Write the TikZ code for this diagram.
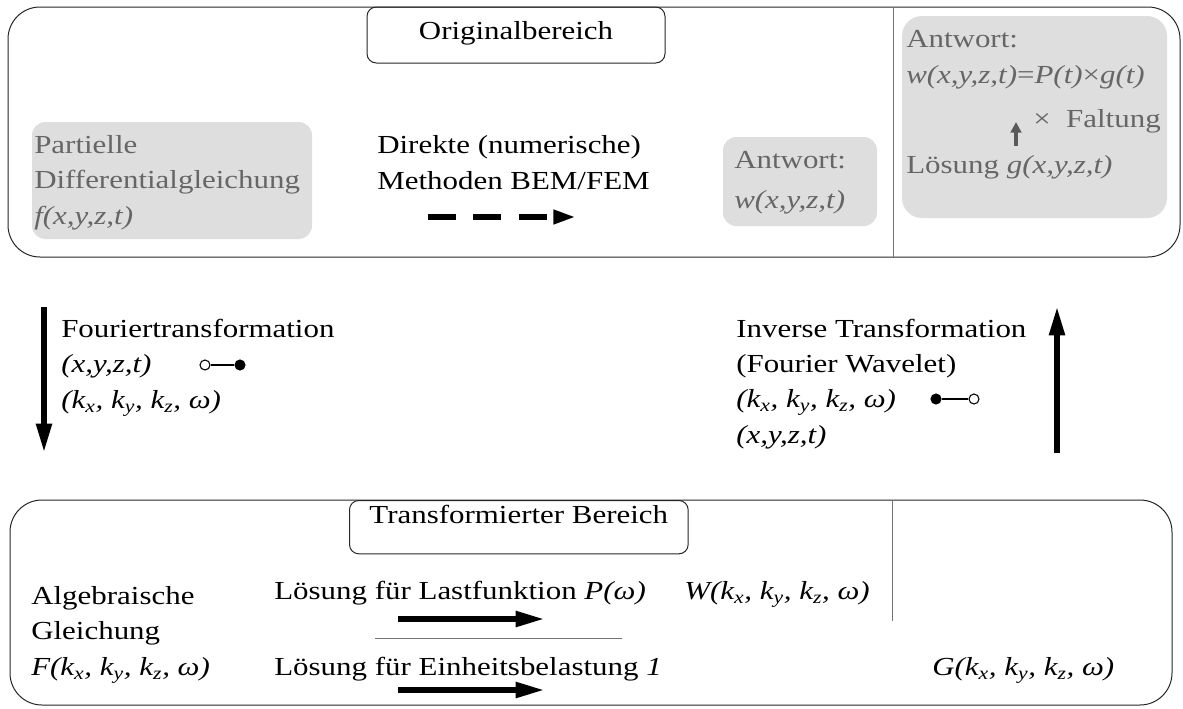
\documentclass[tikz,border=0pt]{standalone}
\usepackage{fontspec}
\setmainfont{Liberation Serif}[FakeStretch=1.19]
\usetikzlibrary{arrows.meta, positioning}

\begin{document}
\begin{tikzpicture}[x=0.75pt, y=-0.75pt,
    region/.style={draw=black!85, line width=0.75pt, rounded corners=24pt},
    titlebox/.style={draw=black!85, line width=0.75pt, rounded corners=7pt, inner sep=0pt},
    shade/.style={fill=black!13, rounded corners=10pt},
    txt/.style={anchor=base west, inner sep=0pt, align=left, font=\fontsize{19.5}{26.5}\selectfont},
    greytxt/.style={txt, text=black!60},
    divider/.style={draw=black!55, line width=0.5pt},
    flow/.style={line width=4.5pt, -{Triangle[length=22pt, width=11pt]}},
    dot/.style={circle, draw, line width=0.8pt, inner sep=0pt, minimum size=7.5pt}
]
\useasboundingbox (0,0) rectangle (1183,708);

% Originalbereich
\draw[region] (8,7) rectangle (1180,257);
\node[titlebox, minimum width=223.5pt, minimum height=42pt] (orig) at (516,35) {};
\node[txt, anchor=base] (origtxt) at (516,39) {Originalbereich};
\draw[divider] (893,7) -- (893,257);

\fill[shade] (32,122) rectangle (312,239);
\node[greytxt] (pde) at (34,224) {Partielle\\Differentialgleichung\\\textit{f(x,y,z,t)}};

\node[txt] (direct) at (377,189) {Direkte (numerische)\\Methoden BEM/FEM};
\coordinate (d1) at (428,217);
\coordinate (d2) at (576,217);
\draw[flow, -{Triangle[length=17pt, width=10pt]}, dash pattern=on 21pt off 13pt] (d1) -- (d2);

\fill[shade] (723,137) rectangle (877,226);
\node[greytxt, font=\fontsize{19.5}{30}\selectfont] (resp) at (734,208) {Antwort:\\\textit{w(x,y,z,t)}};

\fill[shade, rounded corners=15pt] (902,16) rectangle (1167,218);
\node[greytxt] (conv) at (906,83) {Antwort:\\\textit{w(x,y,z,t)}=\textit{P(t)}×\textit{g(t)}};
\node[greytxt, anchor=base east] (fold) at (1161,127) {×\ \ Faltung};
\node[greytxt] (unit) at (906,173) {Lösung \textit{g(x,y,z,t)}};
\coordinate (g1) at (1016,146);
\coordinate (g2) at (1016,122);
\draw[line width=2.5pt, black!65, -{Triangle[length=8pt, width=8pt]}] (g1) -- (g2);

% Hin- und Ruecktransformation
\coordinate (ft1) at (44,307);
\coordinate (ft2) at (44,453);
\draw[flow] (ft1) -- (ft2);
\node[txt] (fourier) at (61,408) {Fouriertransformation\\\textit{(x,y,z,t)}\\\textit{(k\textsubscript{x}, k\textsubscript{y}, k\textsubscript{z}, ω)}};
\node[dot, fill=white] (fo) at (205,365) {};
\node[dot, fill=black] (ff) at (240,365) {};
\draw[line width=0.8pt] (fo) -- (ff);

\coordinate (it1) at (1057,453);
\coordinate (it2) at (1057,306);
\draw[flow] (it1) -- (it2);
\node[txt] (inverse) at (736,443) {Inverse Transformation\\(Fourier Wavelet)\\\textit{(k\textsubscript{x}, k\textsubscript{y}, k\textsubscript{z}, ω)}\\\textit{(x,y,z,t)}};
\node[dot, fill=black] (inf) at (936,399) {};
\node[dot, fill=white] (ino) at (974,399) {};
\draw[line width=0.8pt] (inf) -- (ino);

% Transformierter Bereich
\draw[region] (10,500) rectangle (1172,705);
\node[titlebox, anchor=north west, minimum width=254pt, minimum height=40pt] (trans) at (349,500) {};
\node[txt, anchor=base] (transtxt) at (trans.north |- 0,523) {Transformierter Bereich};
\draw[divider] (892,500) -- (892,621);

\node[txt] (alg) at (31,675) {Algebraische\\Gleichung\\\textit{F(k\textsubscript{x}, k\textsubscript{y}, k\textsubscript{z}, ω)}};
\node[txt] (load) at (274,599) {Lösung für Lastfunktion \textit{P(ω)}};
\node[txt] (wsol) at (684,599) {\textit{W(k\textsubscript{x}, k\textsubscript{y}, k\textsubscript{z}, ω)}};
\coordinate (l1) at (398,619);
\coordinate (l2) at (545,619);
\draw[flow] (l1) -- (l2);
\coordinate (s1) at (375,638);
\coordinate (s2) at (622,638);
\draw[divider] (s1) -- (s2);
\node[txt] (unitload) at (274,675) {Lösung für Einheitsbelastung \textit{1}};
\node[txt] (gsol) at (932,675) {\textit{G(k\textsubscript{x}, k\textsubscript{y}, k\textsubscript{z}, ω)}};
\coordinate (u1) at (398,690);
\coordinate (u2) at (545,690);
\draw[flow] (u1) -- (u2);
\end{tikzpicture}
\end{document}
